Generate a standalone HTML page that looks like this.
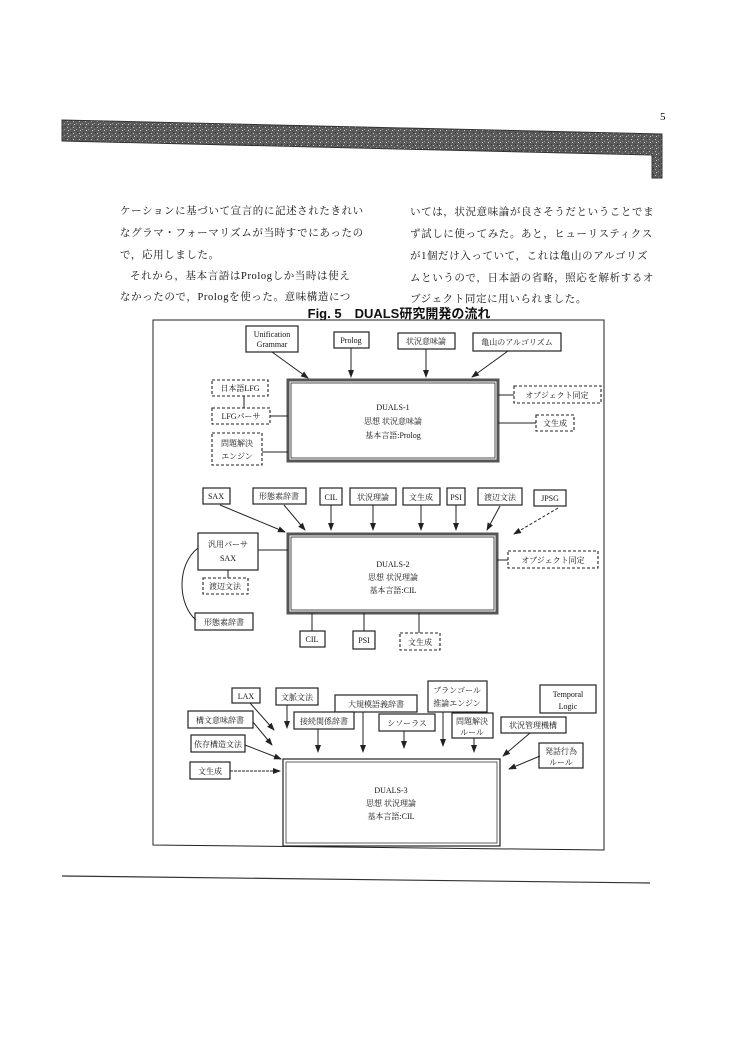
<!DOCTYPE html>
<html><head><meta charset="utf-8">
<style>
html,body{margin:0;padding:0;background:#fff;}
svg{display:block;}
text{font-family:"Liberation Serif","Noto Serif CJK SC","Noto Sans CJK JP",serif;fill:#111;}
.b{fill:#fff;stroke:#222;stroke-width:1.2;}
.d{fill:#fff;stroke:#222;stroke-width:1.1;stroke-dasharray:3,2;}
.m{fill:#fff;stroke:#555;stroke-width:3;}
.l{stroke:#222;stroke-width:1;fill:none;}
.a{stroke:#222;stroke-width:1;fill:none;marker-end:url(#ah);}
.s{font-size:8px;text-anchor:middle;}
.body{font-size:10.5px;letter-spacing:0.6px;}
</style></head><body>
<svg width="750" height="1054" viewBox="0 0 750 1054" xmlns="http://www.w3.org/2000/svg">
<defs><marker id="ah" markerWidth="8" markerHeight="8" refX="7" refY="4" orient="auto" markerUnits="userSpaceOnUse"><path d="M0,1 L8,4 L0,7 Z" fill="#222"/></marker>
<pattern id="nz" width="6" height="6" patternUnits="userSpaceOnUse"><rect width="6" height="6" fill="#5a5a5a"/><rect x="1" y="1" width="1" height="1" fill="#bbb"/><rect x="4" y="3" width="1" height="1" fill="#999"/><rect x="2" y="4" width="1" height="1" fill="#ccc"/><rect x="5" y="0" width="1" height="1" fill="#333"/></pattern></defs>
<!-- header band -->
<polygon points="62,120 662,134 662,178 652,178 652,155 62,141" fill="url(#nz)" stroke="#333" stroke-width="1"/>
<text x="660" y="120" font-size="11">5</text>
<!-- body text -->
<g class="body">
<text x="120" y="214">ケーションに基づいて宣言的に記述されたきれい</text>
<text x="120" y="236">なグラマ・フォーマリズムが当時すでにあったの</text>
<text x="120" y="258">で，応用しました。</text>
<text x="130" y="279">それから，基本言語はPrologしか当時は使え</text>
<text x="120" y="300">なかったので，Prologを使った。意味構造につ</text>
<text x="410" y="215">いては，状況意味論が良さそうだということでま</text>
<text x="410" y="237">ず試しに使ってみた。あと，ヒューリスティクス</text>
<text x="410" y="259">が1個だけ入っていて，これは亀山のアルゴリズ</text>
<text x="410" y="281">ムというので，日本語の省略，照応を解析するオ</text>
<text x="410" y="302">ブジェクト同定に用いられました。</text>
</g>
<text x="399" y="318" font-size="13" font-weight="bold" text-anchor="middle" style="font-family:'Liberation Sans','Noto Sans CJK JP',sans-serif">Fig. 5　DUALS研究開発の流れ</text>
<!-- frame -->
<path d="M153,320 L604,320 L604,850 L153,845 Z" class="l" stroke-width="1.3"/>
<!-- DUALS-1 -->
<rect x="288" y="380" width="210" height="81" class="m"/>
<rect x="291" y="383" width="204" height="75" fill="#fff" stroke="#222" stroke-width="0.8"/>
<text x="393" y="410" class="s" font-size="8.5">DUALS-1</text>
<text x="393" y="424" class="s" font-size="8.5">思想 状況意味論</text>
<text x="393" y="438" class="s" font-size="8.5">基本言語:Prolog</text>
<rect x="246" y="326" width="52" height="26" class="b"/><text x="272" y="337" class="s" font-size="7.5">Unification</text><text x="272" y="347" class="s" font-size="7.5">Grammar</text>
<rect x="334" y="332" width="35" height="16" class="b"/><text x="351" y="343" class="s">Prolog</text>
<rect x="398" y="333" width="57" height="16" class="b"/><text x="426" y="344" class="s">状況意味論</text>
<rect x="473" y="333" width="88" height="18" class="b"/><text x="517" y="345" class="s">亀山のアルゴリズム</text>
<line x1="272" y1="352" x2="308" y2="378" class="a"/>
<line x1="351" y1="348" x2="351" y2="377" class="a"/>
<line x1="426" y1="349" x2="426" y2="377" class="a"/>
<line x1="508" y1="351" x2="472" y2="377" class="a"/>
<rect x="212" y="380" width="56" height="16" class="d"/><text x="240" y="391" class="s">日本語LFG</text>
<rect x="212" y="408" width="58" height="16" class="d"/><text x="241" y="419" class="s">LFGパーサ</text>
<rect x="212" y="433" width="50" height="32" class="d"/><text x="237" y="446" class="s">問題解決</text><text x="237" y="459" class="s">エンジン</text>
<line x1="244" y1="396" x2="244" y2="408" class="l"/>
<line x1="270" y1="416" x2="288" y2="416" class="l"/>
<line x1="262" y1="452" x2="288" y2="452" class="l"/>
<rect x="514" y="386" width="87" height="17" class="d"/><text x="557" y="398" class="s">オブジェクト同定</text>
<rect x="536" y="415" width="38" height="16" class="d"/><text x="555" y="426" class="s">文生成</text>
<line x1="498" y1="395" x2="514" y2="395" class="l"/>
<line x1="498" y1="423" x2="536" y2="423" class="l"/>
<!-- DUALS-2 -->
<rect x="288" y="534" width="209" height="79" class="m"/>
<rect x="291" y="537" width="203" height="73" fill="#fff" stroke="#222" stroke-width="0.8"/>
<text x="393" y="567" class="s" font-size="8.5">DUALS-2</text>
<text x="393" y="580" class="s" font-size="8.5">思想 状況理論</text>
<text x="393" y="593" class="s" font-size="8.5">基本言語:CIL</text>
<rect x="203" y="488" width="27" height="16" class="b"/><text x="216" y="499" class="s">SAX</text>
<rect x="253" y="488" width="53" height="16" class="b"/><text x="279" y="499" class="s">形態素辞書</text>
<rect x="320" y="488" width="22" height="17" class="b"/><text x="331" y="500" class="s">CIL</text>
<rect x="350" y="488" width="46" height="17" class="b"/><text x="373" y="500" class="s">状況理論</text>
<rect x="403" y="488" width="37" height="17" class="b"/><text x="421" y="500" class="s">文生成</text>
<rect x="447" y="488" width="18" height="17" class="b"/><text x="456" y="500" class="s">PSI</text>
<rect x="478" y="488" width="44" height="17" class="b"/><text x="500" y="500" class="s">渡辺文法</text>
<rect x="534" y="490" width="32" height="16" class="b"/><text x="550" y="501" class="s">JPSG</text>
<line x1="220" y1="505" x2="285" y2="532" class="a"/>
<line x1="284" y1="505" x2="305" y2="530" class="a"/>
<line x1="331" y1="505" x2="331" y2="530" class="a"/>
<line x1="373" y1="505" x2="373" y2="530" class="a"/>
<line x1="421" y1="505" x2="421" y2="530" class="a"/>
<line x1="456" y1="505" x2="456" y2="530" class="a"/>
<line x1="500" y1="506" x2="487" y2="530" class="a"/>
<line x1="558" y1="508" x2="514" y2="534" class="a" stroke-dasharray="3,2"/>
<rect x="198" y="533" width="60" height="37" class="b"/><text x="228" y="547" class="s">汎用パーサ</text><text x="228" y="561" class="s">SAX</text>
<rect x="203" y="578" width="45" height="16" class="d"/><text x="225" y="589" class="s">渡辺文法</text>
<rect x="195" y="613" width="58" height="17" class="b"/><text x="224" y="625" class="s">形態素辞書</text>
<line x1="228" y1="570" x2="228" y2="578" class="l"/>
<line x1="258" y1="550" x2="288" y2="550" class="l"/>
<path d="M198,548 C176,565 178,605 196,620" class="l"/>
<rect x="508" y="551" width="90" height="17" class="d"/><text x="553" y="563" class="s">オブジェクト同定</text>
<line x1="497" y1="560" x2="508" y2="560" class="l"/>
<rect x="300" y="631" width="25" height="16" class="b"/><text x="312" y="642" class="s">CIL</text>
<rect x="353" y="631" width="22" height="18" class="b"/><text x="364" y="643" class="s">PSI</text>
<rect x="400" y="633" width="40" height="17" class="d"/><text x="420" y="645" class="s">文生成</text>
<line x1="312" y1="613" x2="312" y2="631" class="l"/>
<line x1="364" y1="613" x2="364" y2="631" class="l"/>
<line x1="419" y1="613" x2="419" y2="633" class="l"/>
<!-- DUALS-3 -->
<rect x="283" y="759" width="217" height="87" class="b" stroke-width="1.6"/>
<rect x="286" y="762" width="211" height="81" fill="none" stroke="#222" stroke-width="0.7"/>
<text x="391" y="793" class="s" font-size="8.5">DUALS-3</text>
<text x="391" y="806" class="s" font-size="8.5">思想 状況理論</text>
<text x="391" y="819" class="s" font-size="8.5">基本言語:CIL</text>
<rect x="232" y="688" width="28" height="15" class="b"/><text x="246" y="699" class="s">LAX</text>
<rect x="276" y="688" width="42" height="17" class="b"/><text x="297" y="700" class="s">文脈文法</text>
<rect x="335" y="695" width="82" height="17" class="b"/><text x="376" y="707" class="s">大規模語義辞書</text>
<rect x="428" y="681" width="59" height="31" class="b"/><text x="457" y="693" class="s">ブランゴール</text><text x="457" y="706" class="s">推論エンジン</text>
<rect x="540" y="685" width="56" height="28" class="b"/><text x="568" y="697" class="s">Temporal</text><text x="568" y="709" class="s">Logic</text>
<rect x="188" y="711" width="65" height="17" class="b"/><text x="220" y="723" class="s">構文意味辞書</text>
<rect x="294" y="712" width="60" height="17" class="b"/><text x="324" y="724" class="s">接続関係辞書</text>
<rect x="379" y="714" width="56" height="17" class="b"/><text x="407" y="726" class="s">シソーラス</text>
<rect x="452" y="713" width="41" height="25" class="b"/><text x="472" y="724" class="s">問題解決</text><text x="472" y="735" class="s">ルール</text>
<rect x="501" y="717" width="65" height="16" class="b"/><text x="533" y="728" class="s">状況管理機構</text>
<rect x="191" y="735" width="54" height="17" class="b"/><text x="218" y="747" class="s">依存構造文法</text>
<rect x="539" y="743" width="44" height="25" class="b"/><text x="561" y="754" class="s">発話行為</text><text x="561" y="765" class="s">ルール</text>
<rect x="190" y="762" width="40" height="17" class="b"/><text x="210" y="774" class="s">文生成</text>
<line x1="250" y1="703" x2="274" y2="730" class="a"/>
<line x1="287" y1="705" x2="287" y2="728" class="a"/>
<line x1="253" y1="722" x2="272" y2="745" class="a"/>
<line x1="245" y1="745" x2="281" y2="759" class="a"/>
<line x1="230" y1="771" x2="280" y2="771" class="a" stroke-dasharray="3,1"/>
<line x1="318" y1="729" x2="318" y2="752" class="a"/>
<line x1="363" y1="712" x2="363" y2="752" class="a"/>
<line x1="404" y1="731" x2="404" y2="748" class="a"/>
<line x1="443" y1="712" x2="443" y2="746" class="a"/>
<line x1="474" y1="738" x2="474" y2="752" class="a"/>
<line x1="530" y1="733" x2="503" y2="756" class="a"/>
<line x1="540" y1="756" x2="509" y2="769" class="a"/>
<!-- bottom rule -->
<line x1="62" y1="876" x2="650" y2="883" stroke="#333" stroke-width="1.2"/>
</svg>
</body></html>
